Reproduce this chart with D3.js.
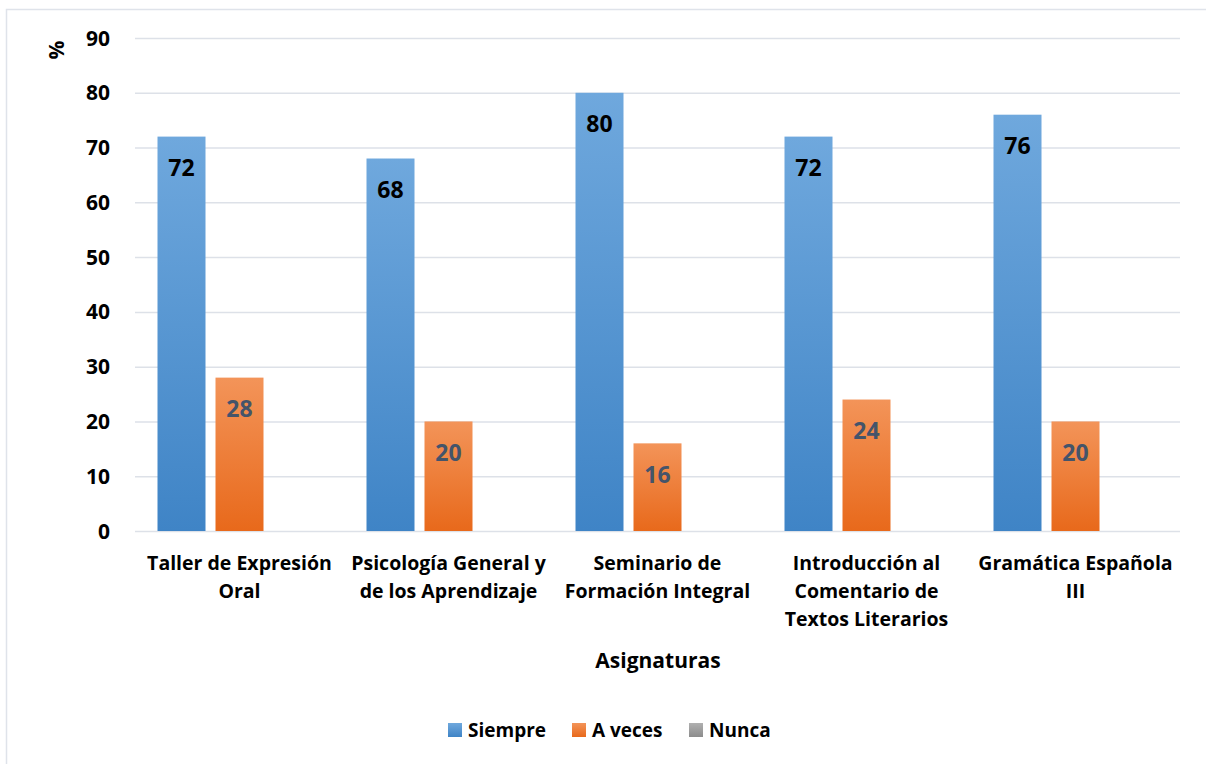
<!DOCTYPE html>
<html>
    <head>
        <meta charset="utf-8">
        <script type="text/javascript" src="https://cdnjs.cloudflare.com/ajax/libs/d3/7.8.5/d3.min.js"></script>
        <style>
        body {
            margin: 0;
            background: #fff;
        }
        text {
            font-family: "Open Sans", Lato, sans-serif;
            font-weight: bold;
        }
        .grid line {
            stroke: #dde1e8;
            stroke-width: 1.5;
        }
        .grid path {
            display: none;
        }
        </style>
    </head>
    <body>
        <script type="text/javascript">
        // categories (line breaks as in the original labels)
        var categories = [
            "Taller de Expresión\nOral",
            "Psicología General y\nde los Aprendizaje",
            "Seminario de\nFormación Integral",
            "Introducción al\nComentario de\nTextos Literarios",
            "Gramática Española\nIII"
        ];
        var seriesNames = ["Siempre", "A veces", "Nunca"];
        var siempre = [72, 68, 80, 72, 76];
        var aVeces = [28, 20, 16, 24, 20];
        var nunca = [0, 0, 0, 0, 0];
        var yTicks = [0, 10, 20, 30, 40, 50, 60, 70, 80, 90];

        var series = [siempre, aVeces, nunca];

        var width = 1206, height = 764;
        var margin = {top: 38, right: 26, bottom: 233, left: 135};
        var w = width - margin.left - margin.right,
            h = height - margin.top - margin.bottom;

        var svg = d3.select("body")
            .append("svg")
            .attr("width", width)
            .attr("height", height);

        // outer chart frame (only left/top visible in the picture)
        svg.append("rect")
            .attr("x", 6.5)
            .attr("y", 9.5)
            .attr("width", width + 20)
            .attr("height", height + 20)
            .attr("fill", "none")
            .attr("stroke", "#dfe3ea")
            .attr("stroke-width", 1.5);

        var defs = svg.append("defs");
        var gradColors = [["#6fa8dd", "#3f84c6"], ["#f39459", "#e8691b"], ["#b0b0b0", "#8c8c8c"]];
        gradColors.forEach(function(c, i) {
            var g = defs.append("linearGradient")
                .attr("id", "grad" + i)
                .attr("x1", 0).attr("y1", 0)
                .attr("x2", 0).attr("y2", 1);
            g.append("stop").attr("offset", "0%").attr("stop-color", c[0]);
            g.append("stop").attr("offset", "100%").attr("stop-color", c[1]);
        });

        var chart = svg.append("g")
            .attr("transform", "translate(" + margin.left + "," + margin.top + ")");

        var x0 = d3.scaleBand()
            .domain(d3.range(categories.length))
            .range([0, w])
            .paddingInner(0)
            .paddingOuter(0);

        var x1 = d3.scaleBand()
            .domain(d3.range(seriesNames.length))
            .range([22.5, x0.bandwidth() - 22.5])
            .paddingInner(10 / 58);

        var y = d3.scaleLinear()
            .domain([0, 90])
            .range([h, 0]);

        // gridlines
        chart.append("g")
            .attr("class", "grid")
            .call(d3.axisLeft(y).tickValues(yTicks).tickSize(-w).tickFormat(""));

        // y tick labels
        chart.selectAll(".ytick")
            .data(yTicks)
            .enter().append("text")
            .attr("x", -25)
            .attr("y", function(d) { return y(d); })
            .attr("dy", "0.36em")
            .attr("text-anchor", "end")
            .style("font-size", "21px")
            .attr("fill", "#000")
            .text(function(d) { return d; });

        // bars
        var groups = chart.selectAll(".group")
            .data(categories)
            .enter().append("g")
            .attr("transform", function(d, i) { return "translate(" + x0(i) + ",0)"; });

        groups.selectAll("rect")
            .data(function(d, i) { return series.map(function(s, k) { return {k: k, v: s[i]}; }); })
            .enter().append("rect")
            .attr("x", function(d) { return x1(d.k); })
            .attr("y", function(d) { return y(d.v); })
            .attr("width", x1.bandwidth())
            .attr("height", function(d) { return h - y(d.v); })
            .attr("fill", function(d) { return "url(#grad" + d.k + ")"; });

        // data labels (inside end)
        groups.selectAll(".lbl")
            .data(function(d, i) { return series.map(function(s, k) { return {k: k, v: s[i]}; }).filter(function(d) { return d.v > 0; }); })
            .enter().append("text")
            .attr("x", function(d) { return x1(d.k) + x1.bandwidth() / 2; })
            .attr("y", function(d) { return y(d.v) + 31; })
            .attr("dy", "0.36em")
            .attr("text-anchor", "middle")
            .style("font-size", "23px")
            .attr("fill", function(d) { return d.k === 0 ? "#000" : "#44546a"; })
            .text(function(d) { return d.v; });

        // category labels
        var catLabels = chart.selectAll(".cat")
            .data(categories)
            .enter().append("text")
            .attr("x", function(d, i) { return x0(i) + x0.bandwidth() / 2; })
            .attr("y", h + 32)
            .attr("text-anchor", "middle")
            .style("font-size", "19.5px")
            .attr("fill", "#000");

        catLabels.selectAll("tspan")
            .data(function(d) { return d.split("\n"); })
            .enter().append("tspan")
            .attr("x", function() { return d3.select(this.parentNode).attr("x"); })
            .attr("dy", function(d, i) { return i === 0 ? "0.36em" : "28px"; })
            .text(function(d) { return d; });

        // axis titles
        svg.append("text")
            .attr("x", 658)
            .attr("y", 660)
            .attr("dy", "0.36em")
            .attr("text-anchor", "middle")
            .style("font-size", "21px")
            .attr("fill", "#000")
            .text("Asignaturas");

        svg.append("text")
            .attr("transform", "translate(56,50) rotate(-90)")
            .attr("dy", "0.36em")
            .attr("text-anchor", "middle")
            .style("font-size", "21px")
            .attr("fill", "#000")
            .text("%");

        // legend
        var legendX = [448, 572, 689];
        var legend = svg.selectAll(".legend")
            .data(seriesNames)
            .enter().append("g")
            .attr("transform", function(d, i) { return "translate(" + legendX[i] + ",730)"; });

        legend.append("rect")
            .attr("x", 0)
            .attr("y", -7)
            .attr("width", 14)
            .attr("height", 14)
            .attr("fill", function(d, i) { return "url(#grad" + i + ")"; });

        legend.append("text")
            .attr("x", 20)
            .attr("dy", "0.36em")
            .style("font-size", "19px")
            .attr("fill", "#000")
            .text(function(d) { return d; });
        </script>
    </body>
</html>
